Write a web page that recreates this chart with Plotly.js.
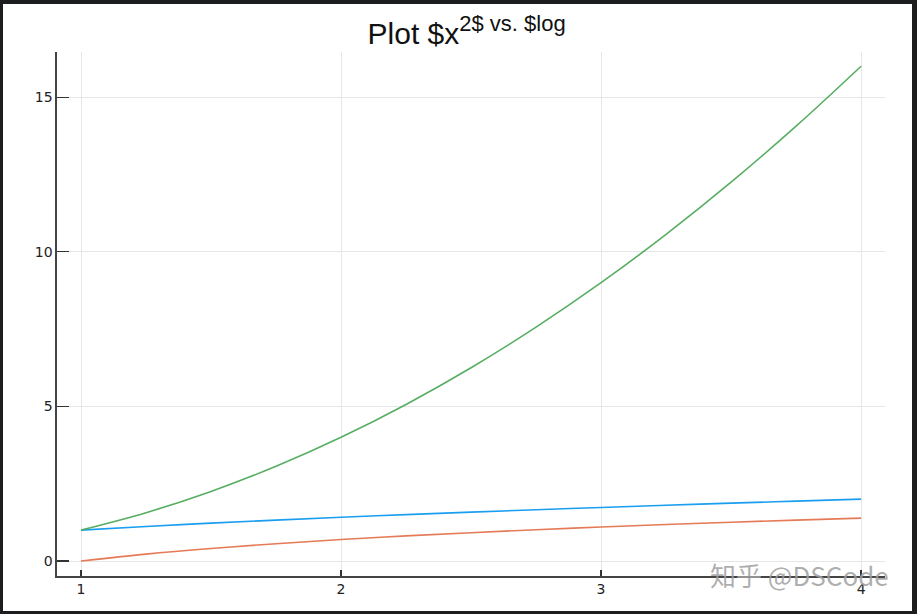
<!DOCTYPE html>
<html>
<head>
<meta charset="utf-8">
<script src="https://cdn.plot.ly/plotly-3.0.1.min.js"></script>
<style>
  html, body { margin: 0; padding: 0; background: #1c1d1f; width: 917px; height: 614px; overflow: hidden; }
  #chart { position: absolute; left: 3px; top: 4px; width: 909px; height: 607px; background: #ffffff; }
</style>
</head>
<body>
<div id="chart"></div>
<script>
// x values and the three series
const xValues = [1, 1.25, 1.5, 1.75, 2, 2.25, 2.5, 2.75, 3, 3.25, 3.5, 3.75, 4];
const sqrtSeries = [1, 1.118, 1.225, 1.323, 1.414, 1.5, 1.581, 1.658, 1.732, 1.803, 1.871, 1.936, 2];
const logSeries = [0, 0.223, 0.405, 0.56, 0.693, 0.811, 0.916, 1.012, 1.099, 1.179, 1.253, 1.322, 1.386];
const squareSeries = [1, 1.5625, 2.25, 3.0625, 4, 5.0625, 6.25, 7.5625, 9, 10.5625, 12.25, 14.0625, 16];
const xTicks = [1, 2, 3, 4];
const yTicks = [0, 5, 10, 15];
const titleMain = "Plot $x";
const titleSup = "2$ vs. $log";
const watermark = "知乎 @DSCode";

const traces = [
  { x: xValues, y: sqrtSeries, type: 'scatter', mode: 'lines', line: { color: '#1a9ef0', width: 1.6, shape: 'spline' }, showlegend: false },
  { x: xValues, y: logSeries, type: 'scatter', mode: 'lines', line: { color: '#e57a57', width: 1.6, shape: 'spline' }, showlegend: false },
  { x: xValues, y: squareSeries, type: 'scatter', mode: 'lines', line: { color: '#56ae62', width: 1.6, shape: 'spline' }, showlegend: false }
];

const layout = {
  width: 909,
  height: 607,
  paper_bgcolor: '#ffffff',
  plot_bgcolor: '#ffffff',
  margin: { l: 54, r: 27, t: 48, b: 35 },
  font: { family: 'Liberation Sans, Arial, sans-serif', color: '#222222', size: 13 },
  title: {
    text: titleMain + "<sup><span style='font-size:22px'>" + titleSup + "</span></sup>",
    font: { family: 'Liberation Sans, Arial, sans-serif', size: 30, color: '#111111' },
    x: 0.51, xref: 'container', xanchor: 'center',
    y: 0.952, yref: 'container', yanchor: 'middle'
  },
  xaxis: {
    range: [0.9077, 4.092],
    tickvals: xTicks,
    ticktext: xTicks.map(String),
    ticks: 'inside', ticklen: 6, tickwidth: 1.3, tickcolor: '#333333',
    showline: true, linecolor: '#444444', linewidth: 1.6,
    showgrid: true, gridcolor: '#e6e6e6', gridwidth: 1,
    zeroline: false,
    tickfont: { size: 14, family: 'DejaVu Sans, sans-serif', color: '#222222' }
  },
  yaxis: {
    range: [-0.485, 16.46],
    tickvals: yTicks,
    ticktext: yTicks.map(String),
    ticks: 'inside', ticklen: 12, tickwidth: 1.3, tickcolor: '#333333',
    showline: true, linecolor: '#444444', linewidth: 1.6,
    showgrid: true, gridcolor: '#e6e6e6', gridwidth: 1,
    zeroline: false,
    tickfont: { size: 14, family: 'DejaVu Sans, sans-serif', color: '#222222' }
  },
  annotations: [
    {
      text: watermark,
      xref: 'paper', yref: 'paper',
      x: 0.897, y: 0.002, xanchor: 'center', yanchor: 'middle',
      showarrow: false,
      font: { family: 'Noto Sans CJK SC, sans-serif', size: 26, color: 'rgba(160,160,160,0.85)' }
    }
  ]
};

Plotly.newPlot('chart', traces, layout, { displayModeBar: false, staticPlot: true });
</script>
</body>
</html>
